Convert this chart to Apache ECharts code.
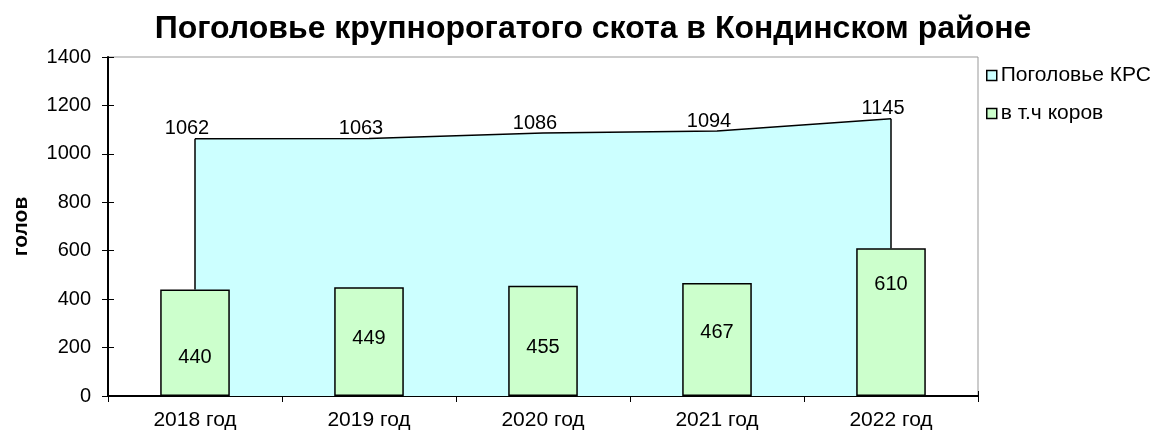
<!DOCTYPE html>
<html>
<head>
<meta charset="utf-8">
<script src="https://cdn.jsdelivr.net/npm/echarts@6/dist/echarts.min.js"></script>
<style>html,body{margin:0;padding:0;background:#fff}#c{width:1167px;height:436px}</style>
</head>
<body>
<div id="c"></div>
<script>
const categories = ['2018 год', '2019 год', '2020 год', '2021 год', '2022 год'];
const totalCattle = [1062, 1063, 1086, 1094, 1145];
const cows = [440, 449, 455, 467, 610];
const yTicks = { min: 0, max: 1400, interval: 200 };
// manual label nudges (pixels below bar top), as placed in the original
const cowLabelDistance = [58, 41, 52, 40, 26];

const chart = echarts.init(document.getElementById('c'));
const font = 'Liberation Sans, Arial, sans-serif';
const first = categories[0], last = categories[categories.length - 1];

chart.setOption({
  animation: false,
  title: {
    text: 'Поголовье крупнорогатого скота в Кондинском районе',
    left: 588, top: 8, textAlign: 'center',
    textStyle: { fontFamily: font, fontWeight: 'bold', fontSize: 32, color: '#000' }
  },
  legend: {
    orient: 'vertical', left: 986, top: 65, itemGap: 17, padding: 0,
    itemWidth: 10, itemHeight: 10,
    textStyle: { fontFamily: font, fontSize: 21, color: '#000', padding: [0, 0, 0, -1] },
    data: [
      { name: 'Поголовье КРС', icon: 'rect', itemStyle: { color: '#CCFFFF', borderColor: '#000', borderWidth: 1.5 } },
      { name: 'в т.ч коров', icon: 'rect', itemStyle: { color: '#CCFFCC', borderColor: '#000', borderWidth: 1.5 } }
    ]
  },
  grid: { left: 108, right: 189, top: 57, bottom: 40, outerBoundsMode: 'none', containLabel: false, show: true, borderColor: '#999', borderWidth: 1, backgroundColor: 'transparent' },
  xAxis: [{
    type: 'category', data: categories, boundaryGap: true,
    axisLine: { lineStyle: { color: '#000', width: 2 } },
    axisTick: { show: true, length: 6, lineStyle: { color: '#000' } },
    axisLabel: { fontFamily: font, fontSize: 21, color: '#000', margin: 14 }
  }, {
    type: 'category', data: categories, position: 'bottom', boundaryGap: true,
    axisLine: { show: false },
    axisTick: { show: true, inside: true, length: 5, lineStyle: { color: '#000' } },
    axisLabel: { show: false }
  }],
  yAxis: [{
    type: 'value', min: yTicks.min, max: yTicks.max, interval: yTicks.interval,
    name: 'голов', nameLocation: 'middle', nameGap: 76, nameRotate: 90,
    nameTextStyle: { fontFamily: font, fontWeight: 'bold', fontSize: 21, color: '#000' },
    axisLine: { show: true, lineStyle: { color: '#000', width: 2 } },
    axisTick: { show: true, length: 6, lineStyle: { color: '#000' } },
    axisLabel: { fontFamily: font, fontSize: 20, color: '#000', margin: 17, formatter: v => String(v) },
    splitLine: { show: false }
  }, {
    type: 'value', min: yTicks.min, max: yTicks.max, interval: yTicks.interval, position: 'left',
    axisLine: { show: false },
    axisTick: { show: true, inside: true, length: 6, lineStyle: { color: '#000' } },
    axisLabel: { show: false }, splitLine: { show: false }
  }],
  series: [{
    name: 'Поголовье КРС', type: 'line', data: totalCattle,
    symbol: 'circle', symbolSize: 0, showSymbol: true, z: 1,
    itemStyle: { color: '#CCFFFF' },
    lineStyle: { color: '#000', width: 1.5 },
    areaStyle: { color: '#CCFFFF', opacity: 1 },
    label: { show: true, position: 'top', distance: 0, offset: [-8, 0], fontFamily: font, fontSize: 20, color: '#000' },
    markLine: {
      silent: true, symbol: 'none', animation: false,
      label: { show: false },
      lineStyle: { color: '#000', width: 1.5, type: 'solid' },
      data: [
        [{ coord: [first, cows[0]] }, { coord: [first, totalCattle[0]] }],
        [{ coord: [last, cows[cows.length - 1]] }, { coord: [last, totalCattle[totalCattle.length - 1]] }]
      ]
    }
  }, {
    name: 'в т.ч коров', type: 'bar', z: 2, barWidth: '40%',
    data: cows.map((v, i) => ({
      value: v,
      label: { position: 'insideTop', distance: cowLabelDistance[i] }
    })),
    itemStyle: { color: '#CCFFCC', borderColor: '#000', borderWidth: 1.5 },
    label: { show: true, fontFamily: font, fontSize: 20, color: '#000' }
  }]
});
</script>
</body>
</html>
